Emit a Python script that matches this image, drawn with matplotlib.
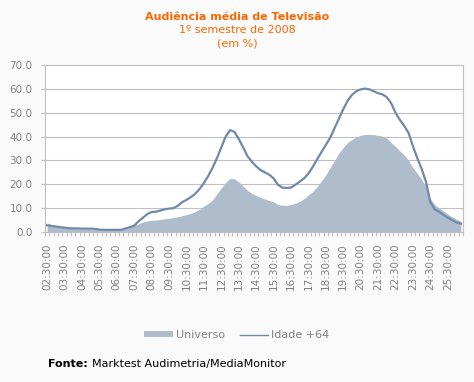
import numpy as np
import matplotlib
matplotlib.use("Agg")
import matplotlib.pyplot as plt
from matplotlib.patches import Patch
from matplotlib.lines import Line2D

# 15-minute slots from 02:30 to 26:15
times = ["%02d:%02d:00" % ((150 + 15 * k) // 60, (150 + 15 * k) % 60) for k in range(96)]

universo = [3.8, 3.2, 2.6, 2.2, 1.8, 1.6, 1.4, 1.3, 1.2, 1.2, 1.1, 1.1,
            1.0, 1.0, 1.0, 1.0, 1.0, 1.1, 1.3, 2.0, 2.8, 3.5, 4.2, 4.6,
            4.9, 5.0, 5.2, 5.5, 5.8, 6.0, 6.4, 6.8, 7.3, 7.8, 8.5, 9.5,
            10.8, 12.0, 13.5, 16.0, 18.5, 20.8, 22.5, 22.3, 21.0, 19.2, 17.5, 16.2,
            15.3, 14.5, 13.8, 13.2, 12.6, 11.5, 11.2, 11.2, 11.5, 12.0, 12.8, 14.0,
            15.5, 17.0, 19.0, 21.5, 24.0, 27.0, 30.0, 33.0, 35.5, 37.5, 38.8, 39.8,
            40.5, 40.9, 40.9, 40.8, 40.5, 40.2, 39.3, 37.5, 35.8, 34.0, 32.3, 30.0,
            27.0, 24.5, 22.0, 19.0, 14.0, 11.5, 10.0, 8.8, 7.5, 6.3, 5.3, 4.5]

idade64 = [2.8, 2.5, 2.3, 2.0, 1.8, 1.6, 1.5, 1.5, 1.4, 1.4, 1.4, 1.3,
           1.0, 0.9, 0.9, 0.9, 0.9, 0.9, 1.5, 2.0, 2.7, 4.5, 6.0, 7.5,
           8.4, 8.5, 9.0, 9.5, 9.8, 10.0, 11.0, 12.5, 13.5, 14.6, 16.0, 18.0,
           20.5, 23.5, 27.0, 31.0, 35.5, 40.0, 42.7, 42.0, 39.0, 35.5, 31.8, 29.5,
           27.5, 26.0, 25.0, 24.0, 22.5, 19.8, 18.6, 18.5, 18.6, 19.8, 21.1, 22.5,
           24.5, 27.3, 30.5, 33.5, 36.5, 39.5, 43.5, 47.5, 51.5, 55.0, 57.5, 59.0,
           59.8, 60.1, 59.8, 59.0, 58.2, 57.7, 56.5, 54.0, 50.0, 47.0, 44.5, 41.5,
           36.0, 31.0, 26.5, 21.0, 12.5, 9.5, 8.5, 7.2, 6.0, 5.0, 4.0, 3.5]

area_color = "#AFBCCB"
line_color = "#7189A9"
orange = "#FF6600"
grey_txt = "#808080"

fig = plt.figure(figsize=(4.74, 3.82), dpi=100, facecolor="#FAFAFA")
ax = fig.add_axes([0.0949, 0.3927, 0.8819, 0.4371])
ax.set_facecolor("white")

x = np.arange(len(times))
ax.fill_between(x, universo, 0, color=area_color, linewidth=0, zorder=2)
ax.plot(x, idade64, color=line_color, linewidth=1.6, zorder=3)

ax.set_xlim(-0.5, len(times) - 0.5)
ax.set_ylim(0, 70)
ax.set_yticks(np.arange(0, 71, 10))
ax.set_yticklabels(["%.1f" % v for v in np.arange(0, 71, 10)])
ax.yaxis.grid(True, color="#C0C0C0", linewidth=0.8, zorder=1)

ax.set_xticks(x[::4])
ax.set_xticklabels(times[::4], rotation=90)
ax.set_xticks(np.arange(-0.5, len(times), 1), minor=True)
ax.tick_params(axis="x", which="major", length=0, pad=8, labelsize=7.5, labelcolor=grey_txt)
ax.tick_params(axis="x", which="minor", length=3, color="#C0C0C0", width=0.8)
ax.tick_params(axis="y", length=3, color="#C0C0C0", labelsize=7.5, labelcolor=grey_txt, pad=6)

for s in ax.spines.values():
    s.set_color("#C0C0C0")
    s.set_linewidth(0.8)

fig.text(0.5, 1 - 17 / 382, "Audiência média de Televisão", ha="center", va="center",
         color=orange, fontsize=8, fontweight="bold")
fig.text(0.5, 1 - 30 / 382, "1º semestre de 2008", ha="center", va="center",
         color=orange, fontsize=8)
fig.text(0.5, 1 - 44 / 382, "(em %)", ha="center", va="center",
         color=orange, fontsize=8)

handles = [Patch(facecolor=area_color, edgecolor="none"),
           Line2D([], [], color=line_color, linewidth=1)]
leg = fig.legend(handles, ["Universo", "Idade +64"], loc="center",
                 bbox_to_anchor=(0.5, 1 - 335 / 382), ncol=2, frameon=False,
                 fontsize=8, handlelength=2.6, handleheight=0.45, handletextpad=0.25,
                 columnspacing=1.3)
for t in leg.get_texts():
    t.set_color(grey_txt)

# source line: bold label followed by normal text
fonte = fig.text(48 / 474, 1 - 364 / 382, "Fonte:", ha="left", va="center",
                 fontsize=8, fontweight="bold", color="black")
renderer = fig.canvas.get_renderer()
bb = fonte.get_window_extent(renderer=renderer)
fig.text((bb.x1 + 4) / fig.bbox.width, 1 - 364 / 382, "Marktest Audimetria/MediaMonitor",
         ha="left", va="center", fontsize=8, color="black")

fig.savefig("out.png", dpi=100, facecolor=fig.get_facecolor())
